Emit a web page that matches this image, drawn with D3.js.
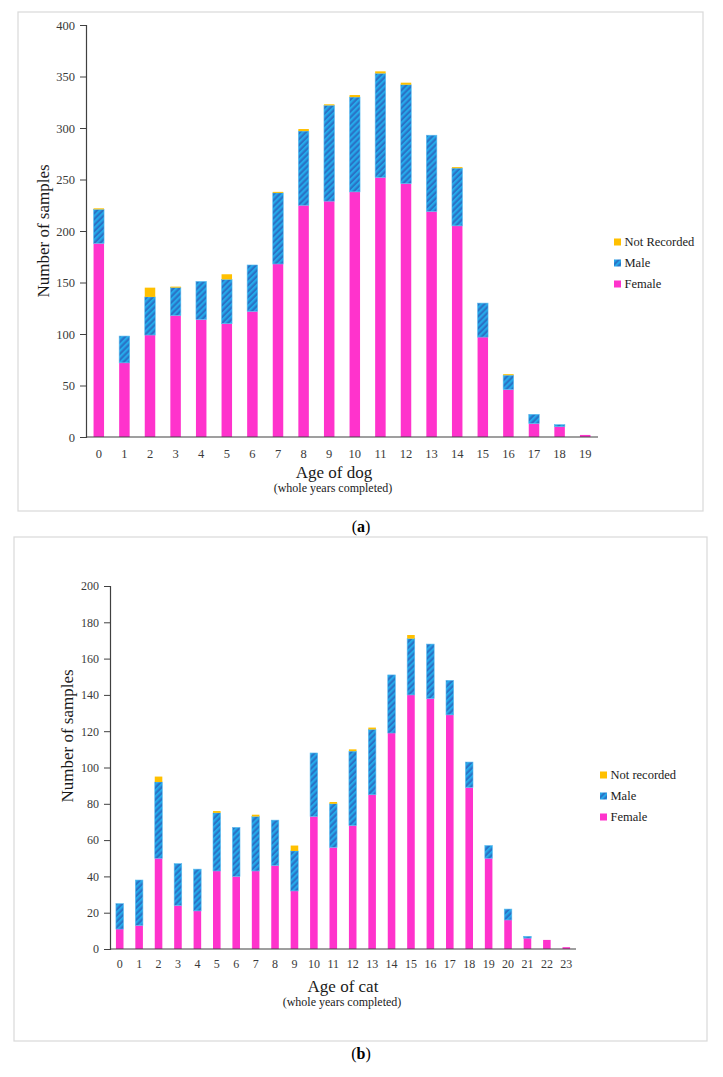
<!DOCTYPE html>
<html>
<head>
<meta charset="utf-8">
<script src="https://cdn.jsdelivr.net/npm/d3@7"></script>
<style>
  body { margin: 0; background: #fff; }
</style>
</head>
<body>
<svg id="chart" width="723" height="1077" font-family="'Liberation Serif', 'Times New Roman', serif"></svg>
<script>
const SERIF = "'Liberation Serif', 'Times New Roman', serif";

// dog ages 0-19
const dogAges = d3.range(0, 20).map(String);
const dogFemale = [188, 72, 99, 118, 114, 110, 122, 168, 225, 229, 238, 252, 246, 219, 205, 97, 46, 13, 10, 2];
const dogMale   = [33, 26, 37, 27, 37, 43, 45, 69, 72, 93, 92, 101, 96, 74, 56, 33, 14, 9, 2, 0];
const dogNR     = [1, 0, 9, 1, 0, 5, 0, 1, 2, 1, 2, 2, 2, 0, 1, 0, 1, 0, 0, 0];
const dogTicks  = [0, 50, 100, 150, 200, 250, 300, 350, 400];

// cat ages 0-23
const catAges = d3.range(0, 24).map(String);
const catFemale = [11, 13, 50, 24, 21, 43, 40, 43, 46, 32, 73, 56, 68, 85, 119, 140, 138, 129, 89, 50, 16, 6, 5, 1];
const catMale   = [14, 25, 42, 23, 23, 32, 27, 30, 25, 22, 35, 24, 41, 36, 32, 31, 30, 19, 14, 7, 6, 1, 0, 0];
const catNR     = [0, 0, 3, 0, 0, 1, 0, 1, 0, 3, 0, 1, 1, 1, 0, 2, 0, 0, 0, 0, 0, 0, 0, 0];
const catTicks  = [0, 20, 40, 60, 80, 100, 120, 140, 160, 180, 200];

const svg = d3.select("#chart");

const defs = svg.append("defs");
const pat = defs.append("pattern")
    .attr("id", "maleStripe")
    .attr("patternUnits", "userSpaceOnUse")
    .attr("width", 4.2)
    .attr("height", 4.2)
    .attr("patternTransform", "rotate(45)");
pat.append("rect").attr("width", 4.2).attr("height", 4.2).attr("fill", "#2a72c6");
pat.append("rect").attr("width", 2.1).attr("height", 4.2).attr("fill", "#25a9ea");

const fills = { female: "#ff33cc", male: "url(#maleStripe)", nr: "#ffc000" };

function drawChart(cfg) {
  const g = svg.append("g");

  // outer frame
  g.append("rect")
    .attr("x", cfg.frame[0]).attr("y", cfg.frame[1])
    .attr("width", cfg.frame[2] - cfg.frame[0])
    .attr("height", cfg.frame[3] - cfg.frame[1])
    .attr("fill", "none").attr("stroke", "#d9d9d9").attr("stroke-width", 1.2);

  const x = d3.scaleBand().domain(cfg.ages).range([cfg.x0, cfg.x1]).paddingInner(cfg.pad).paddingOuter(cfg.pad / 2);
  const y = d3.scaleLinear().domain([0, cfg.ymax]).range([cfg.y0, cfg.y1]);

  const rows = cfg.ages.map((a, i) => ({ age: a, female: cfg.female[i], male: cfg.male[i], nr: cfg.nr[i] }));
  const stack = d3.stack().keys(["female", "male", "nr"])(rows);

  g.selectAll("g.layer")
    .data(stack)
    .join("g")
    .attr("class", "layer")
    .attr("fill", d => fills[d.key])
    .selectAll("rect")
    .data(d => d.filter(s => s[1] > s[0]).map(s => Object.assign(s, { key: d.key })))
    .join("rect")
    .attr("x", d => x(d.data.age))
    .attr("width", x.bandwidth())
    .attr("y", d => y(d[1]))
    .attr("height", d => y(d[0]) - y(d[1]))
    .attr("stroke", d => d.key === "male" ? "#5cbcf0" : "none")
    .attr("stroke-width", 0.6);

  // y axis
  const yAxis = g.append("g")
    .attr("transform", `translate(${cfg.x0},0)`)
    .call(d3.axisLeft(y).tickValues(cfg.ticks).tickSize(6).tickPadding(5));
  yAxis.attr("font-family", SERIF);
  yAxis.select(".domain").attr("stroke", "#404040").attr("stroke-width", 1.2);
  yAxis.selectAll(".tick line").attr("stroke", "#404040");
  yAxis.selectAll(".tick text").attr("fill", "#3a3a3a").attr("font-size", cfg.tickFont);

  // x axis
  const xAxis = g.append("g")
    .attr("transform", `translate(0,${cfg.y0})`)
    .call(d3.axisBottom(x).tickSize(0).tickPadding(cfg.xTickPad).tickSizeOuter(0));
  xAxis.attr("font-family", SERIF);
  xAxis.select(".domain").attr("stroke", "#404040").attr("stroke-width", 1.2)
    .attr("d", `M${cfg.x0},0H${cfg.x1}`);
  xAxis.selectAll(".tick text").attr("fill", "#3a3a3a").attr("font-size", cfg.tickFont);

  // axis titles
  g.append("text")
    .attr("transform", `translate(${cfg.yTitle[0]},${cfg.yTitle[1]}) rotate(-90)`)
    .attr("text-anchor", "middle").attr("dominant-baseline", "central")
    .attr("font-size", 17).attr("fill", "#1a1a1a")
    .text("Number of samples");
  g.append("text")
    .attr("x", cfg.xTitle[0]).attr("y", cfg.xTitle[1])
    .attr("text-anchor", "middle").attr("font-size", 17).attr("fill", "#1a1a1a")
    .text(cfg.xLabel);
  g.append("text")
    .attr("x", cfg.xSub[0]).attr("y", cfg.xSub[1])
    .attr("text-anchor", "middle").attr("font-size", 12).attr("fill", "#1a1a1a")
    .text("(whole years completed)");

  // legend
  const leg = g.append("g").attr("transform", `translate(${cfg.legend[0]},${cfg.legend[1]})`);
  cfg.legendItems.forEach((it, i) => {
    const row = leg.append("g").attr("transform", `translate(0,${i * 21})`);
    row.append("rect").attr("x", 0).attr("y", -6.5).attr("width", 7).attr("height", 7)
      .attr("fill", fills[it.key]);
    row.append("text").attr("x", 10.5).attr("y", 0).attr("dy", "0.05em")
      .attr("font-size", 12.5).attr("fill", "#1a1a1a").text(it.label);
  });

  // caption
  const cap = svg.append("text")
    .attr("x", 361).attr("y", cfg.caption[1])
    .attr("text-anchor", "middle").attr("font-size", 16).attr("fill", "#000");
  cap.append("tspan").text("(");
  cap.append("tspan").attr("font-weight", "bold").text(cfg.caption[0]);
  cap.append("tspan").text(")");
}

drawChart({
  frame: [18, 12, 703, 511],
  ages: dogAges, female: dogFemale, male: dogMale, nr: dogNR,
  ticks: dogTicks, ymax: 400,
  x0: 86, x1: 598, y0: 437, y1: 25, pad: 0.59,
  tickFont: 12.5, xTickPad: 12,
  yTitle: [43, 231], xTitle: [334, 478], xSub: [333, 492],
  xLabel: "Age of dog",
  legend: [614, 245],
  legendItems: [{ key: "nr", label: "Not Recorded" }, { key: "male", label: "Male" }, { key: "female", label: "Female" }],
  caption: ["a", 532]
});

drawChart({
  frame: [14, 537, 707, 1041],
  ages: catAges, female: catFemale, male: catMale, nr: catNR,
  ticks: catTicks, ymax: 200,
  x0: 110, x1: 576, y0: 949, y1: 586, pad: 0.61,
  tickFont: 12, xTickPad: 10,
  yTitle: [67, 736], xTitle: [343, 992], xSub: [342, 1006],
  xLabel: "Age of cat",
  legend: [600, 778],
  legendItems: [{ key: "nr", label: "Not recorded" }, { key: "male", label: "Male" }, { key: "female", label: "Female" }],
  caption: ["b", 1059]
});
</script>
</body>
</html>
